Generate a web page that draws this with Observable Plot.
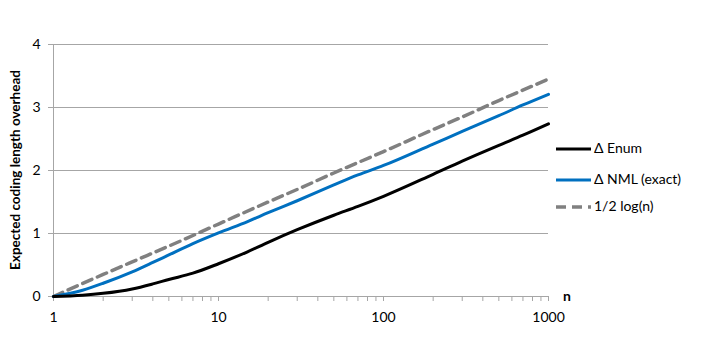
<!DOCTYPE html>
<html>
<head>
<meta charset="utf-8">
<script src="https://cdn.jsdelivr.net/npm/d3@7"></script>
<script src="https://cdn.jsdelivr.net/npm/@observablehq/plot@0.6"></script>
<style>
  html, body { margin: 0; padding: 0; background: #fff; }
  #chart svg { display: block; }
</style>
</head>
<body>
<div id="chart"></div>
<script>
// Data
const nEnum   = [1, 1.5, 2, 3, 4, 5, 7, 10, 15, 20, 30, 50, 70, 100, 200, 300, 500, 700, 1000];
const enumVal = [0, 0.02, 0.05, 0.12, 0.20, 0.27, 0.37, 0.52, 0.71, 0.86, 1.06, 1.29, 1.43, 1.59, 1.94, 2.15, 2.40, 2.56, 2.74];
const nNml    = [1, 1.5, 2, 3, 4, 5, 7, 10, 15, 20, 30, 50, 70, 100, 200, 300, 500, 700, 1000];
const nmlVal  = [0, 0.10, 0.21, 0.39, 0.54, 0.66, 0.84, 1.01, 1.19, 1.33, 1.52, 1.77, 1.93, 2.08, 2.42, 2.62, 2.87, 3.04, 3.21];
const nLog    = [1, 2, 3, 5, 10, 20, 30, 50, 100, 200, 300, 500, 1000];
const logVal  = [0, 0.35, 0.55, 0.80, 1.15, 1.50, 1.70, 1.96, 2.30, 2.65, 2.85, 3.11, 3.45];

const seriesNames = ["\u0394 Enum", "\u0394 NML (exact)", "1/2 log(n)"];
const seriesColors = ["#000000", "#0070C0", "#808080"];
const seriesDash = [null, null, "10,6"];

const xMajor = [1, 10, 100, 1000];
const xMinor = [1,2,3,4,5,6,7,8,9,10,20,30,40,50,60,70,80,90,100,200,300,400,500,600,700,800,900,1000];
const yTicks = [0, 1, 2, 3, 4];
const yTitle = "Expected coding length overhead";
const xTitle = "n";

const FONT = "Lato, 'Liberation Sans', sans-serif";

const enumData = nEnum.map((n, i) => ({n, v: enumVal[i]}));
const nmlData = nNml.map((n, i) => ({n, v: nmlVal[i]}));
const logData = nLog.map((n, i) => ({n, v: logVal[i]}));

const plot = Plot.plot({
  width: 706,
  height: 353,
  marginLeft: 53,
  marginRight: 158,
  marginTop: 44,
  marginBottom: 57,
  style: {fontFamily: FONT, fontSize: "14px", color: "#000", background: "#fff"},
  x: {type: "log", domain: [1, 1000]},
  y: {domain: [0, 4]},
  marks: [
    Plot.gridY(yTicks.slice(1), {stroke: "#a6a6a6", strokeOpacity: 1, strokeWidth: 1}),
    Plot.ruleX([1], {stroke: "#a6a6a6", strokeWidth: 1}),
    Plot.ruleY([0], {stroke: "#a6a6a6", strokeWidth: 1}),
    Plot.axisY({ticks: yTicks, tickSize: 5, tickPadding: 8, stroke: "#a6a6a6", tickFormat: d => String(d), label: null, fontSize: 14}),
    Plot.axisX({ticks: xMinor, tickSize: 5, tickFormat: () => "", stroke: "#a6a6a6", label: null}),
    Plot.axisX({ticks: xMajor, tickSize: 0, tickPadding: 16, tickFormat: d => String(d), label: null, fontSize: 14}),
    Plot.line(logData, {x: "n", y: "v", stroke: seriesColors[2], strokeWidth: 3.5, strokeDasharray: seriesDash[2], curve: "monotone-x"}),
    Plot.line(nmlData, {x: "n", y: "v", stroke: seriesColors[1], strokeWidth: 3, curve: "monotone-x"}),
    Plot.line(enumData, {x: "n", y: "v", stroke: seriesColors[0], strokeWidth: 3, curve: "monotone-x"})
  ]
});

document.getElementById("chart").appendChild(plot);

// Titles and legend
const svg = d3.select(plot);
svg.append("text")
  .attr("transform", "translate(17,170) rotate(-90)")
  .attr("text-anchor", "middle")
  .attr("dominant-baseline", "middle")
  .style("font-family", FONT).style("font-size", "13.5px").style("font-weight", "bold")
  .text(yTitle);
svg.append("text")
  .attr("x", 567).attr("y", 297)
  .attr("text-anchor", "middle")
  .attr("dominant-baseline", "middle")
  .style("font-family", FONT).style("font-size", "14px").style("font-weight", "bold")
  .text(xTitle);

const legendY = [149, 180, 207];
seriesNames.forEach((name, i) => {
  svg.append("line")
    .attr("x1", 556).attr("x2", 591)
    .attr("y1", legendY[i]).attr("y2", legendY[i])
    .attr("stroke", seriesColors[i]).attr("stroke-width", i === 2 ? 3.5 : 3)
    .attr("stroke-dasharray", seriesDash[i]);
  svg.append("text")
    .attr("x", 594).attr("y", legendY[i])
    .attr("text-anchor", "start")
    .attr("dominant-baseline", "middle")
    .style("font-family", FONT).style("font-size", "14px")
    .text(name);
});
</script>
</body>
</html>
